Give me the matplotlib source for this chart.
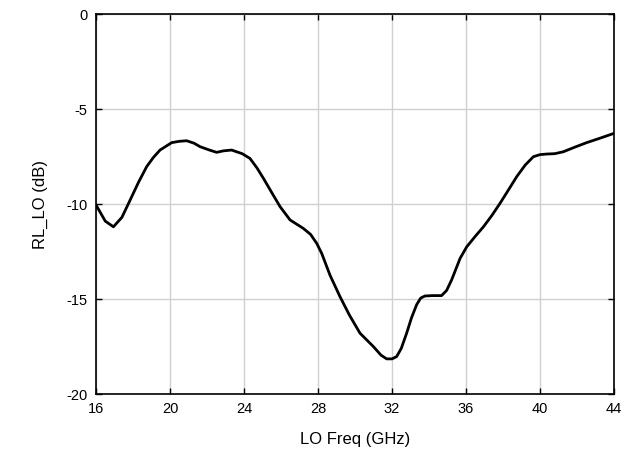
import matplotlib
matplotlib.use("Agg")
import matplotlib.pyplot as plt

plt.rcParams["font.family"] = ["Liberation Sans", "DejaVu Sans"]
plt.rcParams["axes.unicode_minus"] = False

freq = [16.0, 16.5, 16.94, 17.4, 17.84, 18.3, 18.74, 19.1, 19.46, 20.09, 20.5, 20.9,
        21.3, 21.62, 22.1, 22.52, 22.9, 23.33, 23.9, 24.32, 24.7, 25.05, 25.5, 25.95,
        26.49, 27.2, 27.6, 27.93, 28.2, 28.65, 29.19, 29.7, 30.27, 30.99, 31.4, 31.71,
        32.0, 32.25, 32.5, 32.79, 33.05, 33.33, 33.55, 33.78, 34.2, 34.68, 34.95, 35.22,
        35.68, 36.04, 36.5, 36.94, 37.4, 37.84, 38.3, 38.74, 39.2, 39.64, 40.0, 40.36,
        40.8, 41.26, 41.9, 42.52, 43.2, 44.0]
rl_lo = [-10.05, -10.9, -11.2, -10.7, -9.8, -8.85, -8.03, -7.55, -7.16, -6.77, -6.7, -6.67,
         -6.8, -6.98, -7.15, -7.28, -7.2, -7.16, -7.35, -7.6, -8.1, -8.65, -9.4, -10.14,
         -10.84, -11.28, -11.6, -12.07, -12.6, -13.75, -14.88, -15.85, -16.8, -17.5, -17.95, -18.15,
         -18.15, -18.03, -17.6, -16.8, -16.0, -15.3, -14.95, -14.84, -14.82, -14.82, -14.55, -14.0,
         -12.86, -12.25, -11.7, -11.2, -10.6, -9.96, -9.25, -8.56, -7.95, -7.51, -7.4, -7.37,
         -7.35, -7.25, -7.0, -6.77, -6.55, -6.28]

xticks = [16, 20, 24, 28, 32, 36, 40, 44]
yticks = [0, -5, -10, -15, -20]

fig = plt.figure(figsize=(6.38, 4.58), dpi=100)
ax = fig.add_axes([0.1505, 0.1397, 0.8119, 0.8297])

ax.plot(freq, rl_lo, color="black", lw=2.0, solid_capstyle="round",
        solid_joinstyle="round", zorder=3)

ax.set_xlim(16, 44)
ax.set_ylim(-20, 0)
ax.set_xticks(xticks)
ax.set_yticks(yticks)
ax.grid(True, color="#d0d0d0", lw=1.0)
ax.tick_params(direction="in", top=True, right=True, labelsize=10.5, length=4, width=1, pad=6)
for s in ax.spines.values():
    s.set_linewidth(1.2)

ax.set_xlabel("LO Freq (GHz)", fontsize=12, labelpad=11)
ax.set_ylabel("RL_LO (dB)", fontsize=12, labelpad=13)

fig.savefig("out.png", dpi=100)
